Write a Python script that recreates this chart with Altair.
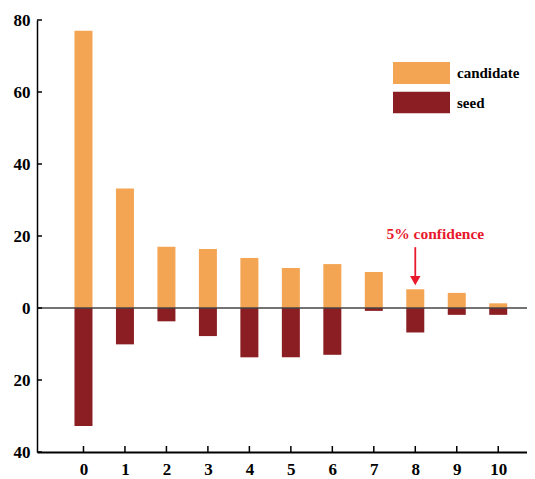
import altair as alt
import pandas as pd

# ---- data ----
lags = list(range(11))
candidate = [77.0, 33.2, 17.0, 16.4, 13.9, 11.1, 12.2, 10.0, 5.2, 4.2, 1.3]
seed = [32.8, 10.1, 3.7, 7.8, 13.7, 13.7, 13.0, 0.8, 6.8, 1.9, 1.9]
y_ticks = [80, 60, 40, 20, 0, -20, -40]
series_names = ["candidate", "seed"]
series_colors = ["#F4A553", "#8A1E23"]
note_text = ["5% confidence"]
note_lag = [8]
note_text_y = [20.5]
arrow_top = [16.9]
arrow_end = [8.6]
arrow_head_y = [7.6]

FONT = "Liberation Serif"
W, H = 490, 432
TOP = 12

rows = []
for l, c, s in zip(lags, candidate, seed):
    rows.append({"lag": l, "series": series_names[0], "value": c})
    rows.append({"lag": l, "series": series_names[1], "value": -s})
bars_df = pd.DataFrame(rows)
ticks_x_df = pd.DataFrame({"lag": lags})
ticks_y_df = pd.DataFrame({"v": y_ticks})
note_df = pd.DataFrame({"lag": note_lag, "ty": note_text_y, "text": note_text,
                        "a1": arrow_top, "a2": arrow_end, "ah": arrow_head_y})

x_scale = alt.Scale(domain=[-1, -1 + W / 42.34], nice=False, zero=False)
y_scale = alt.Scale(domain=[-40, 80], nice=False, zero=False)

x_axis = alt.Axis(values=lags, tickSize=0, labelPadding=9, domainColor="black",
                  domainWidth=2, labelFont=FONT, labelFontSize=17, labelFontWeight="bold",
                  labelColor="black", grid=False, title=None, labelAngle=0)
y_axis = alt.Axis(values=y_ticks, tickSize=0, labelPadding=7, domainColor="black",
                  domainWidth=1.5, labelFont=FONT, labelFontSize=17, labelFontWeight="bold",
                  labelColor="black", grid=False, title=None,
                  labelExpr="abs(datum.value)")

bars = alt.Chart(bars_df).mark_bar(size=18).encode(
    x=alt.X("lag:Q", scale=x_scale, axis=x_axis),
    y=alt.Y("value:Q", scale=y_scale, axis=y_axis, stack=None),
    color=alt.Color("series:N",
                    scale=alt.Scale(domain=series_names, range=series_colors),
                    legend=alt.Legend(orient="none", legendX=356, legendY=62 - 8 - TOP, title=None,
                                      symbolType="M-1,-0.386H1V0.386H-1Z", symbolSize=3249,
                                      symbolStrokeWidth=0, symbolOpacity=1,
                                      labelFont=FONT, labelFontSize=15, labelFontWeight="bold",
                                      labelColor="black", labelOffset=7,
                                      clipHeight=22, rowPadding=7.5,
                                      padding=0)),
)

zero_line = alt.Chart(pd.DataFrame({"z": [0]})).mark_rule(color="#444444", strokeWidth=1.5).encode(
    y=alt.Y("z:Q", scale=y_scale)
)

x_ticks = alt.Chart(ticks_x_df).mark_rule(color="black", strokeWidth=1.5).encode(
    x=alt.X("lag:Q", scale=x_scale), y=alt.value(H), y2=alt.value(H - 6)
)
y_ticks_m = alt.Chart(ticks_y_df).mark_rule(color="black", strokeWidth=1.5).encode(
    y=alt.Y("v:Q", scale=y_scale), x=alt.value(0), x2=alt.value(5)
)

RED = "#E8192C"
note = alt.Chart(note_df).mark_text(font=FONT, fontSize=15.5, fontWeight="bold",
                                    color=RED, dx=20).encode(
    x=alt.X("lag:Q", scale=x_scale), y=alt.Y("ty:Q", scale=y_scale), text="text:N"
)
arrow = alt.Chart(note_df).mark_rule(color=RED, strokeWidth=1.8).encode(
    x=alt.X("lag:Q", scale=x_scale), y=alt.Y("a1:Q", scale=y_scale), y2="a2:Q"
)
head = alt.Chart(note_df).mark_point(shape="triangle-down", filled=True, color=RED,
                                     size=110, opacity=1).encode(
    x=alt.X("lag:Q", scale=x_scale), y=alt.Y("ah:Q", scale=y_scale)
)

chart = alt.layer(bars, zero_line, x_ticks, y_ticks_m, note, arrow, head).properties(
    width=W, height=H,
    background="white",
    autosize=alt.AutoSizeParams(type="none"),
    padding={"left": 29, "top": TOP, "right": 0, "bottom": 27},
).configure_view(stroke="transparent", strokeWidth=0)

chart.save("out.html", embed_options={"renderer": "svg", "actions": False})
